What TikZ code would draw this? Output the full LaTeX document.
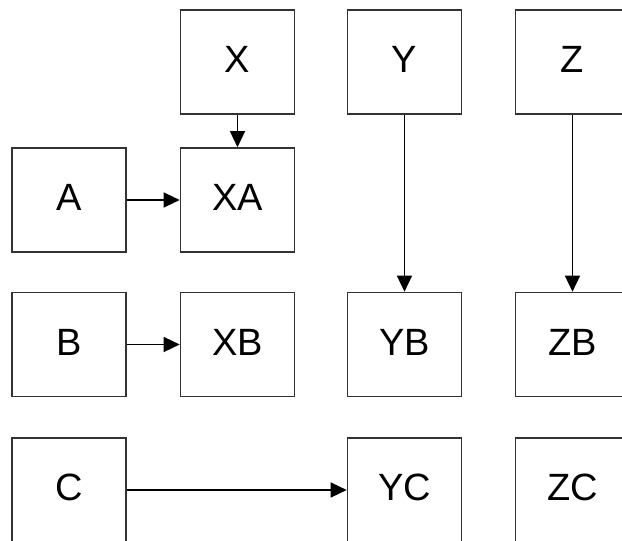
\documentclass[tikz,border=0pt]{standalone}
\usepackage{fontspec}
\setmainfont{Liberation Sans}
\usetikzlibrary{arrows.meta}
\begin{document}
\begin{tikzpicture}[x=1pt,y=-1pt,
  box/.style={draw=black!80,line width=1.6pt,minimum width=114pt,minimum height=104pt,
    inner sep=0pt,text height=28pt,text depth=7pt,font=\fontsize{38}{40}\selectfont},
  conn/.style={draw=black,line width=1.3pt,-{Triangle[length=16pt,width=15pt]}}]
\useasboundingbox (0,0) rectangle (622,541);
\node[box] (X)  at (237.5,62) {X};
\node[box] (Y)  at (404.5,62) {Y};
\node[box] (Z)  at (572.5,62) {Z};
\node[box] (A)  at (69,200) {A};
\node[box] (XA) at (237.5,200) {XA};
\node[box] (B)  at (69,344.5) {B};
\node[box] (XB) at (237.5,344.5) {XB};
\node[box] (YB) at (404.5,344.5) {YB};
\node[box] (ZB) at (572.5,344.5) {ZB};
\node[box] (C)  at (69,490) {C};
\node[box] (YC) at (404.5,490) {YC};
\node[box] (ZC) at (572.5,490) {ZC};
\draw[conn] (X) -- (XA);
\draw[conn] (A) -- (XA);
\draw[conn] (B) -- (XB);
\draw[conn] (C) -- (YC);
\draw[conn] (Y) -- (YB);
\draw[conn] (Z) -- (ZB);
\end{tikzpicture}
\end{document}
